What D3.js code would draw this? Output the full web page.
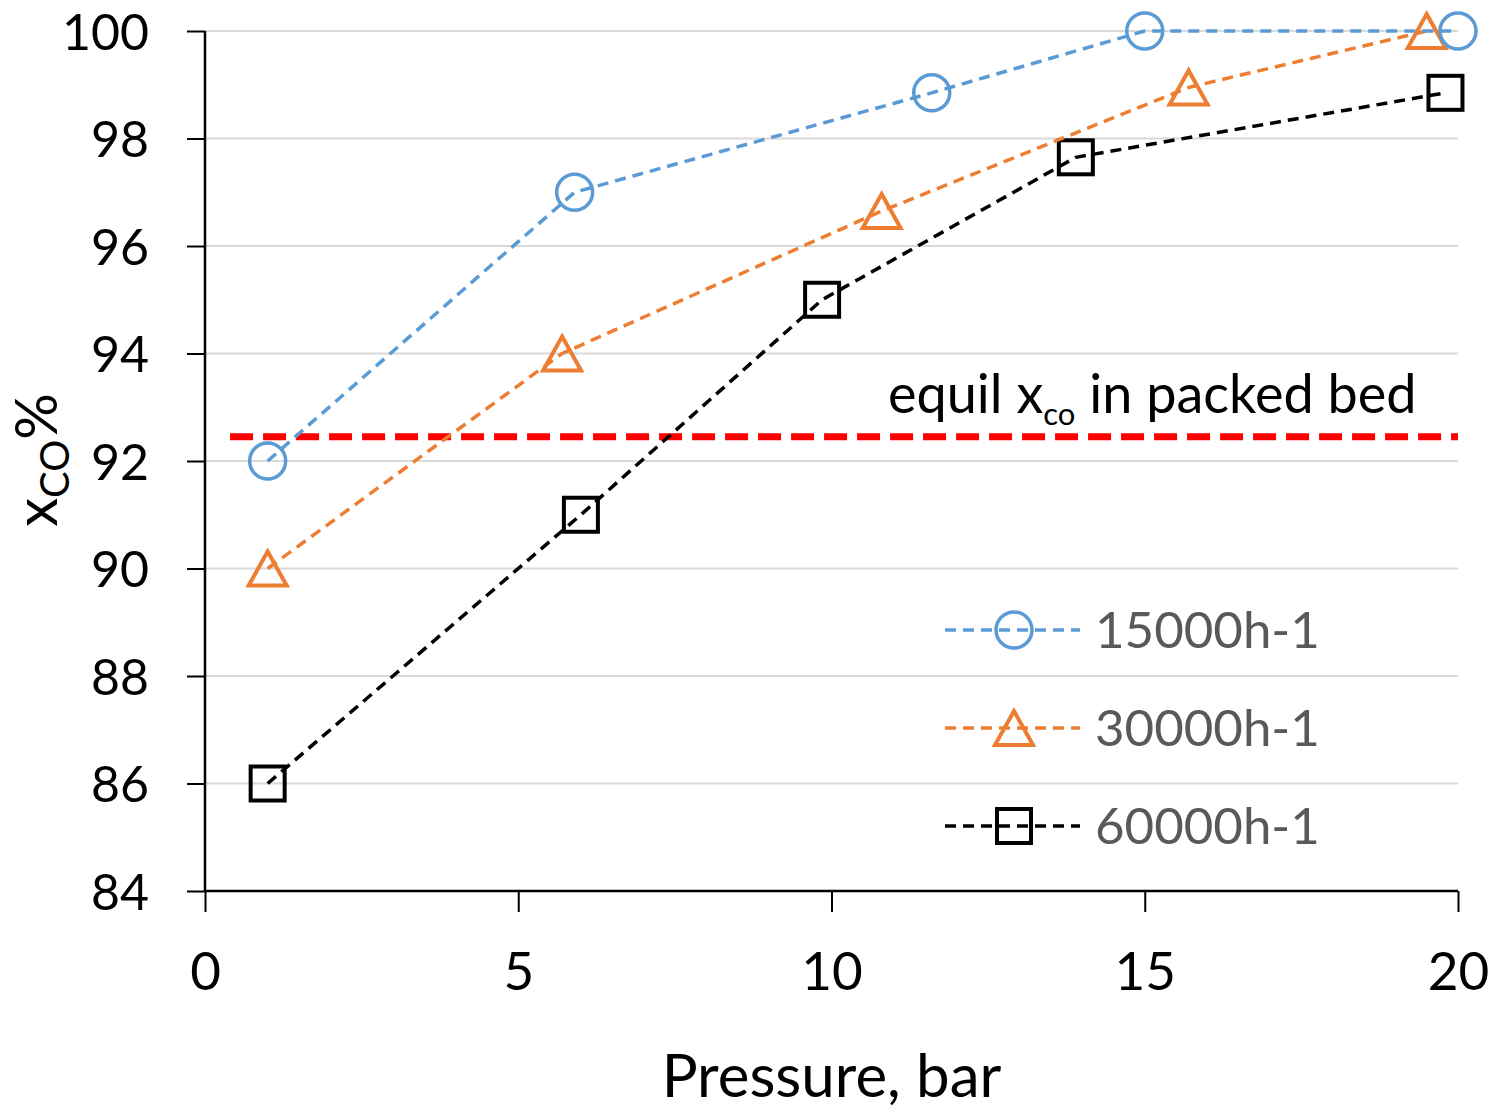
<!DOCTYPE html>
<html lang="en">
<head>
<meta charset="UTF-8">
<title>XCO vs pressure</title>
<script src="https://d3js.org/d3.v7.min.js"></script>
<style>
  body { margin: 0; background: #fff; }
  svg { font-family: Lato, "Open Sans", sans-serif; }
</style>
</head>
<body>
<div id="chart"></div>
<script>
// data
var seriesNames = ['15000h-1', '30000h-1', '60000h-1'];
var pressure15 = [1, 5.9, 11.6, 15, 20];
var conv15     = [92, 97, 98.85, 100, 100];
var pressure30 = [1, 5.7, 10.8, 15.7, 19.5];
var conv30     = [90, 94, 96.65, 98.95, 100];
var pressure60 = [1, 6, 9.85, 13.9, 19.8];
var conv60     = [86, 91, 95, 97.65, 98.85];
var equilConv  = 92.45;
var equilRange = [0.4, 20];
var xTicks = [0, 5, 10, 15, 20];
var yTicks = [84, 86, 88, 90, 92, 94, 96, 98, 100];

var W = 1490, H = 1109;
var margin = {top: 31, right: 32, bottom: 218, left: 205};
var width = W - margin.left - margin.right;
var height = H - margin.top - margin.bottom;

var svg = d3.select('#chart').append('svg')
    .attr('width', W).attr('height', H);
var g = svg.append('g')
    .attr('transform', 'translate(' + margin.left + ',' + margin.top + ')');

var x = d3.scaleLinear().domain([0, 20]).range([0, width]);
var y = d3.scaleLinear().domain([84, 100]).range([height, 0]);

// gridlines
g.selectAll('.grid').data(yTicks.filter(d => d > 84)).enter().append('line')
    .attr('x1', 0).attr('x2', width)
    .attr('y1', d => y(d)).attr('y2', d => y(d))
    .attr('stroke', '#d9d9d9').attr('stroke-width', 2);

// axes
var yAxis = g.append('g')
    .call(d3.axisLeft(y).tickValues(yTicks).tickSize(18).tickPadding(38));
var xAxis = g.append('g')
    .attr('transform', 'translate(0,' + height + ')')
    .call(d3.axisBottom(x).tickValues(xTicks).tickSize(21).tickPadding(40));
[yAxis, xAxis].forEach(function(a) {
    a.attr('font-family', null);
    a.select('.domain').attr('stroke', '#000').attr('stroke-width', 2.5);
    a.selectAll('.tick line').attr('stroke', '#000').attr('stroke-width', 2);
    a.selectAll('.tick text').attr('fill', '#000');
});
yAxis.selectAll('.tick text').style('font-size', '50px').attr('dy', '0.36em');
xAxis.selectAll('.tick text').style('font-size', '53px');
yAxis.select('.domain').attr('d', 'M0,0V' + height);
xAxis.select('.domain').attr('d', 'M0,0H' + width);

// equilibrium line
g.append('line')
    .attr('x1', x(equilRange[0])).attr('x2', x(equilRange[1]))
    .attr('y1', y(equilConv)).attr('y2', y(equilConv))
    .attr('stroke', '#ff0000').attr('stroke-width', 7)
    .attr('stroke-dasharray', '23,10');

var ann = g.append('text')
    .attr('x', 683).attr('y', y(equilConv) - 24)
    .style('font-size', '54px').attr('fill', '#000');
ann.append('tspan').text('equil x');
ann.append('tspan').attr('dy', 12).style('font-size', '31px').text('co');
ann.append('tspan').attr('dy', -12).text(' in packed bed');

// series
function circleMark(sel, color) {
    sel.append('circle').attr('r', 18)
        .attr('fill', 'none').attr('stroke', color).attr('stroke-width', 3.5);
}
function triMark(sel, color) {
    sel.append('path').attr('d', 'M0,-17L19,17L-19,17Z')
        .attr('fill', 'none').attr('stroke', color).attr('stroke-width', 4)
        .attr('stroke-linejoin', 'miter');
}
function squareMark(sel, color) {
    sel.append('rect').attr('x', -17).attr('y', -17).attr('width', 34).attr('height', 34)
        .attr('fill', 'none').attr('stroke', color).attr('stroke-width', 4);
}

var series = [
    {name: seriesNames[0], xs: pressure15, ys: conv15, color: '#5b9bd5', mark: circleMark},
    {name: seriesNames[1], xs: pressure30, ys: conv30, color: '#ed7d31', mark: triMark},
    {name: seriesNames[2], xs: pressure60, ys: conv60, color: '#000000', mark: squareMark}
];

var line = d3.line().x(d => x(d[0])).y(d => y(d[1]));

series.slice().reverse().forEach(function(s) {
    var pts = s.xs.map((v, i) => [v, s.ys[i]]);
    g.append('path').datum(pts)
        .attr('fill', 'none').attr('stroke', s.color).attr('stroke-width', 3.5)
        .attr('stroke-dasharray', '11,7').attr('d', line);
    pts.forEach(function(p) {
        var m = g.append('g').attr('transform', 'translate(' + x(p[0]) + ',' + y(p[1]) + ')');
        s.mark(m, s.color);
    });
});

// legend
var legend = g.append('g').attr('transform', 'translate(740,599)');
series.forEach(function(s, i) {
    var row = legend.append('g').attr('transform', 'translate(0,' + (i * 98) + ')');
    row.append('line').attr('x1', 0).attr('x2', 135)
        .attr('stroke', s.color).attr('stroke-width', 3.5).attr('stroke-dasharray', '11,7');
    var m = row.append('g').attr('transform', 'translate(69,0)');
    s.mark(m, s.color);
    row.append('text').attr('x', 150).attr('y', 0).attr('dy', '0.35em')
        .style('font-size', '51px').attr('fill', '#595959').text(s.name);
});

// axis titles
svg.append('text')
    .attr('x', margin.left + width / 2).attr('y', 1097)
    .attr('text-anchor', 'middle').style('font-size', '60px').attr('fill', '#000')
    .text('Pressure, bar');

var yt = svg.append('text')
    .attr('transform', 'translate(57,460) rotate(-90)')
    .attr('text-anchor', 'middle').style('font-size', '58px').attr('fill', '#000');
yt.append('tspan').text('x');
yt.append('tspan').attr('dy', 12).style('font-size', '40px').text('CO');
yt.append('tspan').attr('dy', -12).text('%');
</script>
</body>
</html>
